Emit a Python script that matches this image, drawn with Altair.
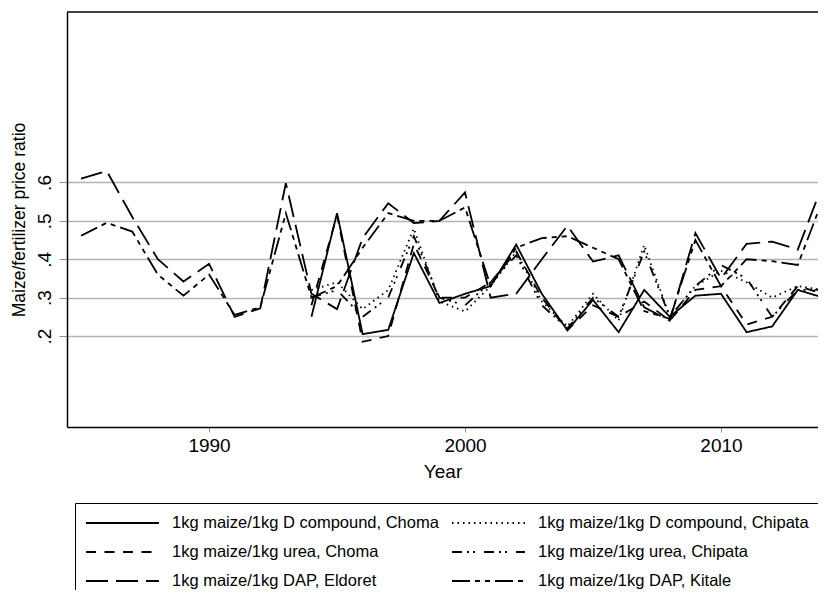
import altair as alt
import pandas as pd

# ---------------- data ----------------
years_all = list(range(1985, 2015))      # Kenya series
years_zm = list(range(1994, 2015))       # Zambia series

series_names = [
    "1kg maize/1kg D compound, Choma",
    "1kg maize/1kg D compound, Chipata",
    "1kg maize/1kg urea, Choma",
    "1kg maize/1kg urea, Chipata",
    "1kg maize/1kg DAP, Eldoret",
    "1kg maize/1kg DAP, Kitale",
]

choma_dcomp = [0.25, 0.52, 0.205, 0.216, 0.416, 0.286, 0.31, 0.33, 0.438, 0.31, 0.215,
               0.294, 0.21, 0.32, 0.25, 0.305, 0.31, 0.21, 0.225, 0.32, 0.30]
chipata_dcomp = [0.32, 0.34, 0.27, 0.32, 0.48, 0.29, 0.264, 0.33, 0.42, 0.29, 0.225,
                 0.31, 0.24, 0.437, 0.25, 0.33, 0.37, 0.34, 0.30, 0.33, 0.32]
choma_urea = [0.28, 0.515, 0.185, 0.20, 0.44, 0.30, 0.30, 0.34, 0.42, 0.30, 0.215,
              0.28, 0.25, 0.29, 0.24, 0.32, 0.33, 0.23, 0.25, 0.33, 0.31]
chipata_urea = [0.30, 0.32, 0.25, 0.30, 0.46, 0.30, 0.28, 0.34, 0.41, 0.28, 0.22,
                0.30, 0.25, 0.42, 0.25, 0.33, 0.385, 0.35, 0.25, 0.32, 0.32]
eldoret_dap = [0.61, 0.63, 0.51, 0.40, 0.342, 0.388, 0.25, 0.272, 0.598, 0.31,
               0.27, 0.455, 0.546, 0.494, 0.50, 0.574, 0.30, 0.31, 0.40, 0.487,
               0.394, 0.41, 0.275, 0.24, 0.468, 0.35, 0.44, 0.446, 0.425, 0.60]
kitale_dap = [0.461, 0.495, 0.472, 0.36, 0.305, 0.36, 0.255, 0.275, 0.52, 0.30,
              0.33, 0.43, 0.52, 0.50, 0.50, 0.535, 0.33, 0.43, 0.455, 0.46,
              0.43, 0.40, 0.265, 0.245, 0.45, 0.33, 0.40, 0.395, 0.385, 0.56]

dash_by_series = {
    series_names[0]: [1, 0],
    series_names[1]: [1.5, 4],
    series_names[2]: [10, 8.5],
    series_names[3]: [10, 5, 2, 4, 2, 9],
    series_names[4]: [22, 8],
    series_names[5]: [18, 5, 5, 5, 5, 5],
}

# legend fills columns first: left column = Choma D, Choma urea, Eldoret
legend_order = [series_names[0], series_names[2], series_names[4],
                series_names[1], series_names[3], series_names[5]]

y_ticks = [0.2, 0.3, 0.4, 0.5, 0.6]
x_ticks = [1990, 2000, 2010]

rows = []
for name, yrs, vals in [
    (series_names[0], years_zm, choma_dcomp),
    (series_names[1], years_zm, chipata_dcomp),
    (series_names[2], years_zm, choma_urea),
    (series_names[3], years_zm, chipata_urea),
    (series_names[4], years_all, eldoret_dap),
    (series_names[5], years_all, kitale_dap),
]:
    for yr, v in zip(yrs, vals):
        rows.append({"year": yr, "ratio": v, "series": name})
df = pd.DataFrame(rows)

# ---------------- chart ----------------
W, H = 751, 415
FONT = "Liberation Sans"

x_enc = alt.X(
    "year:Q",
    scale=alt.Scale(domain=[1984.45, 2013.79], nice=False, zero=False),
    axis=alt.Axis(
        values=x_ticks, format="d", title="Year", grid=False,
        domainColor="black", domainWidth=1.5,
        tickColor="#909090", tickSize=5, tickWidth=1,
        labelFontSize=19, labelPadding=4, labelColor="black",
        titleFontSize=19, titleFontWeight="normal", titlePadding=7, titleColor="black",
    ),
)
y_enc = alt.Y(
    "ratio:Q",
    scale=alt.Scale(domain=[-0.037, 1.044], nice=False, zero=False),
    axis=alt.Axis(
        values=y_ticks, title="Maize/fertilizer price ratio",
        labelExpr="'.' + format(datum.value * 10, '.0f')",
        grid=True, gridColor="#b4b4b4", gridWidth=1.6,
        domainColor="black", domainWidth=1.5,
        tickColor="#909090", tickSize=8, tickWidth=1,
        labelAngle=270, labelAlign="center", labelBaseline="alphabetic",
        labelFontSize=19, labelPadding=9, labelColor="black",
        titleFontSize=17.5, titleFontWeight="normal", titlePadding=7, titleColor="black",
    ),
)

lines = alt.Chart(df).mark_line(color="black", strokeWidth=1.8, clip=True).encode(
    x=x_enc,
    y=y_enc,
    strokeDash=alt.StrokeDash(
        "series:N",
        scale=alt.Scale(domain=legend_order,
                        range=[dash_by_series[s] for s in legend_order]),
        legend=alt.Legend(
            title=None, orient="none", legendX=8, legendY=491,
            columns=2, symbolType="stroke", symbolSize=5329,
            symbolStrokeWidth=2, symbolStrokeColor="black",
            clipHeight=20, rowPadding=9, columnPadding=12,
            labelFontSize=16.5, labelOffset=12, labelLimit=500, labelColor="black",
            strokeColor="black", padding=10,
        ),
    ),
)

top_border = alt.Chart(pd.DataFrame({"k": [0]})).mark_rule(
    color="black", strokeWidth=1.5
).encode(x=alt.value(0), x2=alt.value(W), y=alt.value(0))

chart = (
    alt.layer(lines, top_border)
    .properties(
        width=W, height=H,
        autosize=alt.AutoSizeParams(type="none"),
        padding={"left": 59, "top": 4, "right": 0, "bottom": 163},
        background="white",
    )
    .configure(font=FONT)
    .configure_view(strokeWidth=0)
)

chart.save("out.html", embed_options={"renderer": "svg", "actions": False})
